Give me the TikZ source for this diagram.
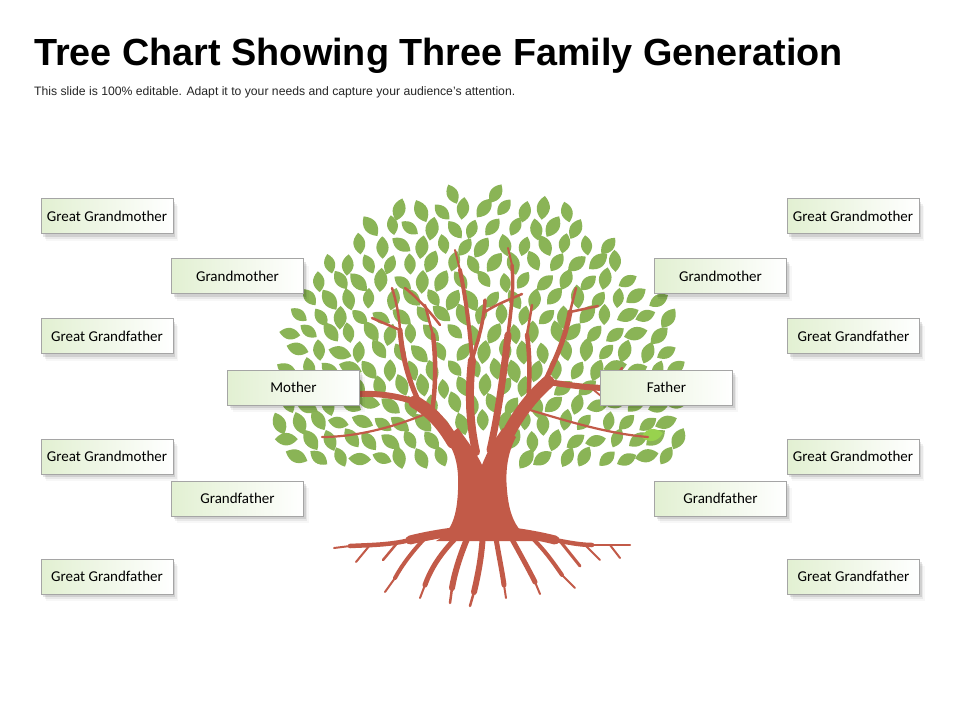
\documentclass[tikz,border=0pt]{standalone}
\usepackage{fontspec}
\setmainfont{Liberation Sans}
\newfontfamily\boxfont{Carlito}
\usetikzlibrary{shadows}
\definecolor{leafg}{RGB}{138,180,86}
\definecolor{leafb}{RGB}{152,210,78}
\definecolor{trk}{RGB}{194,90,72}
\definecolor{boxg}{RGB}{226,240,210}
\definecolor{boxline}{RGB}{165,165,165}
\tikzset{
  br/.style={draw=trk, line cap=round, line join=round},
  famBox/.style={rectangle, draw=boxline, line width=0.8pt,
    minimum width=132pt, minimum height=35pt, inner sep=0pt,
    left color=boxg, right color=white,
    font=\boxfont\fontsize{15}{18}\selectfont, text=black,
    drop shadow={shadow xshift=2pt, shadow yshift=-3pt, opacity=.10, fill=black},
    drop shadow={shadow xshift=3.5pt, shadow yshift=-5pt, opacity=.06, fill=black},
    drop shadow={shadow xshift=5pt, shadow yshift=-7pt, opacity=.03, fill=black}},
  leafshape/.style={fill=leafg}
}
\begin{document}
\begin{tikzpicture}[x=1pt,y=-1pt]
\useasboundingbox (0,0) rectangle (960,720);
\fill[white] (0,0) rectangle (960,720);

% title
\node[anchor=base west, inner sep=0pt, font=\bfseries\fontsize{37.8}{40}\selectfont] (title) at (34,65) {Tree Chart Showing Three Family Generation};
\node[anchor=base west, inner sep=0pt, font=\fontsize{12.2}{14}\selectfont, text=black!85] (subtitle) at (34,95) {This slide is 100\% editable. Adapt it to your needs and capture your audience’s attention.};

% leaves
\pgfmathsetseed{23}
\foreach \i in {0,...,21}{
  \foreach \j in {0,...,16}{
    \pgfmathsetmacro\lx{268 + \i*20.5 + mod(\j,2)*10.25 + 2.5*rand}
    \pgfmathsetmacro\ly{192 + \j*17.7 + 2.5*rand}
    \pgfmathtruncatemacro\ins{((((\lx-480)/206)^2 + ((\ly-404)/212)^2) < 1) && (\ly < 466) && !((abs(\lx-482) < 30) && (\ly > 426)) ? 1 : 0}
    \ifnum\ins=1
      \pgfmathsetmacro\ang{atan2(530-\ly, \lx-480) + 40*rand}
      \pgfmathsetmacro\sc{0.9 + 0.2*rnd}
      \fill[leafshape, shift={(\lx,\ly)}, rotate=\ang, scale=\sc]
        (-11,0) .. controls (-4,8) and (4,8) .. (11,0) .. controls (4,-8) and (-4,-8) .. cycle;
    \fi
  }
}
\fill[leafb, shift={(652,435)}, rotate=10]
  (-11,0) .. controls (-4,8) and (4,8) .. (11,0) .. controls (4,-8) and (-4,-8) .. cycle;

% trunk
\fill[trk] (436,541) .. controls (452,532) and (457,515) .. (458,490)
  .. controls (459,468) and (456,452) .. (445,438)
  -- (458,428)
  .. controls (468,442) and (476,452) .. (482,465)
  .. controls (487,452) and (494,440) .. (503,428)
  -- (516,437)
  .. controls (508,452) and (505,470) .. (507,490)
  .. controls (509,515) and (516,532) .. (534,541)
  -- cycle;

% main limbs
\draw[br, line width=13pt] (453,442) .. controls (443,425) and (432,412) .. (415,402);
\draw[br, line width=13pt] (508,434) .. controls (518,415) and (530,398) .. (548,382);
\draw[br, line width=8pt] (476,452) .. controls (470,425) and (468,395) .. (472,360);
\draw[br, line width=7pt] (490,450) .. controls (497,420) and (503,380) .. (508,335);

% secondary branches
\draw[br, line width=6pt] (415,402) .. controls (395,395) and (375,393) .. (352,394);
\draw[br, line width=3pt] (352,394) .. controls (340,392) and (330,388) .. (318,383);
\draw[br, line width=5pt] (420,404) .. controls (408,380) and (402,355) .. (400,330);
\draw[br, line width=2.5pt] (400,330) .. controls (399,315) and (396,300) .. (392,288);
\draw[br, line width=4.5pt] (432,412) .. controls (436,385) and (436,360) .. (433,335);
\draw[br, line width=2.5pt] (433,335) -- (425,305);
\draw[br, line width=2.5pt] (400,330) -- (372,318);
\draw[br, line width=2.5pt] (352,394) -- (338,372);
\draw[br, line width=2.2pt] (430,412) .. controls (400,425) and (360,437) .. (322,437);
\draw[br, line width=6pt] (548,382) .. controls (568,385) and (588,388) .. (608,388);
\draw[br, line width=3pt] (608,388) .. controls (620,388) and (632,392) .. (645,396);
\draw[br, line width=5pt] (542,388) .. controls (555,360) and (565,340) .. (570,312);
\draw[br, line width=2.5pt] (570,312) -- (576,288);
\draw[br, line width=4.5pt] (528,405) .. controls (530,380) and (530,355) .. (527,335);
\draw[br, line width=2.5pt] (527,335) -- (532,305);
\draw[br, line width=2.5pt] (570,312) -- (598,306);
\draw[br, line width=2.5pt] (608,388) -- (622,368);
\draw[br, line width=1.8pt] (590,387) -- (612,405);
\draw[br, line width=2.2pt] (530,410) .. controls (570,422) and (610,434) .. (648,437);
\draw[br, line width=4pt] (472,360) .. controls (470,330) and (466,300) .. (460,270);
\draw[br, line width=2pt] (460,270) -- (455,250);
\draw[br, line width=3.5pt] (472,360) .. controls (478,340) and (484,322) .. (485,300);
\draw[br, line width=3.5pt] (508,335) .. controls (511,310) and (514,290) .. (512,265);
\draw[br, line width=2pt] (512,265) -- (508,248);
\draw[br, line width=2.5pt] (485,312) .. controls (495,305) and (508,300) .. (522,294);
\draw[br, line width=2.5pt] (405,288) .. controls (420,300) and (430,312) .. (440,325);

% roots
\draw[br, line width=9pt] (470,530) .. controls (450,532) and (430,535) .. (410,540);
\draw[br, line width=4.5pt] (410,540) .. controls (390,545) and (370,545) .. (350,546);
\draw[br, line width=2pt] (350,546) -- (334,548);
\draw[br, line width=2.5pt] (398,542) -- (383,560);
\draw[br, line width=2pt] (370,545) -- (356,562);
\draw[br, line width=4pt] (425,538) .. controls (412,552) and (402,565) .. (395,578);
\draw[br, line width=2pt] (395,578) -- (385,592);
\draw[br, line width=5pt] (462,532) .. controls (445,548) and (432,565) .. (425,585);
\draw[br, line width=2pt] (425,585) -- (420,598);
\draw[br, line width=6pt] (470,532) .. controls (462,550) and (455,570) .. (452,588);
\draw[br, line width=2.5pt] (452,588) -- (450,603);
\draw[br, line width=6pt] (483,532) .. controls (482,555) and (478,575) .. (474,592);
\draw[br, line width=2.5pt] (474,592) -- (470,606);
\draw[br, line width=5pt] (495,532) .. controls (498,552) and (502,570) .. (504,585);
\draw[br, line width=2pt] (504,585) -- (506,598);
\draw[br, line width=5pt] (508,532) .. controls (518,550) and (528,568) .. (535,582);
\draw[br, line width=2pt] (535,582) -- (540,594);
\draw[br, line width=9pt] (495,530) .. controls (515,532) and (535,535) .. (555,540);
\draw[br, line width=4.5pt] (555,540) .. controls (570,543) and (582,545) .. (592,545);
\draw[br, line width=2pt] (592,545) -- (630,545);
\draw[br, line width=3pt] (560,541) -- (580,566);
\draw[br, line width=2pt] (585,545) -- (600,560);
\draw[br, line width=4pt] (530,536) .. controls (545,550) and (555,565) .. (562,575);
\draw[br, line width=2pt] (562,575) -- (575,588);
\draw[br, line width=2pt] (610,545) -- (620,558);

% family boxes (left)
\node[famBox] (lggm1) at (107,216) {Great Grandmother};
\node[famBox] (lgm)   at (237.5,276) {Grandmother};
\node[famBox] (lggf1) at (107,336) {Great Grandfather};
\node[famBox] (mother) at (293.5,387.5) {Mother};
\node[famBox] (lggm2) at (107,456.5) {Great Grandmother};
\node[famBox] (lgf)   at (237.5,498.5) {Grandfather};
\node[famBox] (lggf2) at (107,576.5) {Great Grandfather};
% family boxes (right)
\node[famBox] (rggm1) at (853,216) {Great Grandmother};
\node[famBox] (rgm)   at (720.5,276) {Grandmother};
\node[famBox] (rggf1) at (853.5,336) {Great Grandfather};
\node[famBox] (father) at (666.5,387.5) {Father};
\node[famBox] (rggm2) at (853,456.5) {Great Grandmother};
\node[famBox] (rgf)   at (720.5,498.5) {Grandfather};
\node[famBox] (rggf2) at (853.5,576.5) {Great Grandfather};
\end{tikzpicture}
\end{document}
